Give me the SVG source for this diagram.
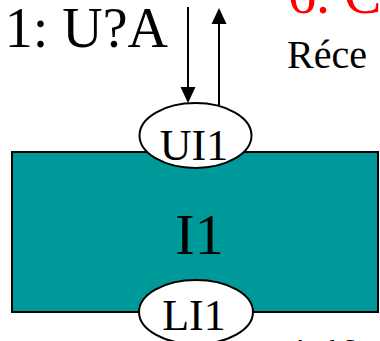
<svg xmlns="http://www.w3.org/2000/svg" width="380" height="341" viewBox="0 0 380 341">
  <style>
    .port { fill: #ffffff; stroke: #000000; stroke-width: 2; }
    .wire { stroke: #000000; stroke-width: 2; fill: none; }
    .tip { fill: #000000; }
  </style>
  <rect width="380" height="341" fill="#ffffff"/>
  <text x="168" y="47" font-family="'Liberation Serif'" font-size="56" text-anchor="end" fill="#000000">1: U?A</text>
  <text x="288" y="13" font-family="'Liberation Serif'" font-size="56" fill="#ff0000">6. C</text>
  <text x="287" y="68" font-family="'Liberation Serif'" font-size="40" fill="#000000">R&#233;ce</text>
  <text x="291" y="357" font-family="'Liberation Serif'" font-size="26" fill="#000000">And S</text>
  <g id="I1">
    <rect x="12" y="152" width="366" height="160" fill="#009999" stroke="#000000" stroke-width="2"/>
    <text x="199.5" y="254" font-family="'Liberation Serif'" font-size="58" text-anchor="middle" fill="#000000">I1</text>
  </g>
  <g id="UI1">
    <ellipse class="port" cx="195.5" cy="135.5" rx="56" ry="32.5"/>
    <text x="194" y="160" font-family="'Liberation Serif'" font-size="44" text-anchor="middle" fill="#000000">UI1</text>
  </g>
  <g id="LI1">
    <ellipse class="port" cx="196" cy="312" rx="57" ry="32"/>
    <text x="194" y="330" font-family="'Liberation Serif'" font-size="44" text-anchor="middle" fill="#000000">LI1</text>
  </g>
  <g id="connectors">
    <line class="wire" x1="188" y1="7" x2="188" y2="90"/>
    <polygon class="tip" points="180.5,87 195.5,87 188,103"/>
    <line class="wire" x1="219" y1="105" x2="219" y2="22"/>
    <polygon class="tip" points="211.5,24 226.5,24 219,8"/>
  </g>
</svg>
